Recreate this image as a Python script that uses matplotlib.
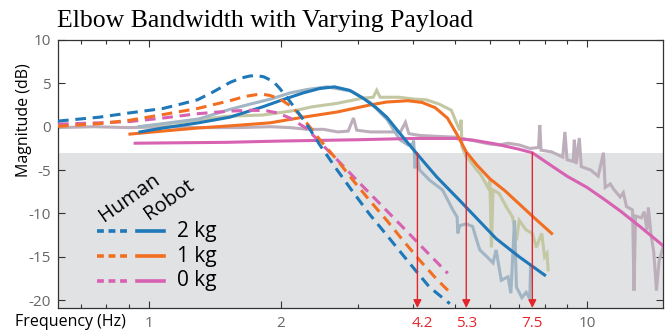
import numpy as np
import matplotlib
matplotlib.use("Agg")
import matplotlib.pyplot as plt
from matplotlib.ticker import FixedLocator, NullFormatter

plt.rcParams["axes.unicode_minus"] = False

# === Data ===

# human model (dashed)
human_2kg_f = [0.62, 0.77, 0.905, 1.076, 1.18, 1.29, 1.40, 1.53, 1.62, 1.70, 1.76, 1.83, 1.89, 1.94, 1.99, 2.07, 2.15, 2.23, 2.31, 2.455, 2.69, 2.92, 3.19, 3.49, 3.80, 4.08, 4.37, 4.86]
human_2kg_db = [0.65, 1.1, 1.6, 2.1, 2.6, 3.1, 4.0, 5.1, 5.6, 5.85, 5.9, 5.75, 5.4, 5.0, 4.4, 3.3, 2.2, 1.1, 0.0, -2.1, -5.0, -7.5, -10.1, -12.5, -14.8, -16.7, -18.5, -20.4]

human_1kg_f = [0.62, 0.77, 0.905, 1.076, 1.29, 1.53, 1.66, 1.76, 1.83, 1.89, 1.99, 2.12, 2.245, 2.455, 2.69, 2.92, 3.19, 3.49, 3.80, 4.15, 4.54, 4.91]
human_1kg_db = [0.05, 0.35, 0.75, 1.4, 2.1, 3.0, 3.5, 3.7, 3.72, 3.6, 3.2, 2.3, 1.0, -1.5, -3.85, -6.15, -8.5, -10.8, -13.1, -15.4, -17.6, -19.3]

human_0kg_f = [0.62, 0.77, 0.905, 1.076, 1.29, 1.53, 1.70, 1.85, 1.96, 2.1, 2.29, 2.49, 2.7, 3.0, 3.4, 3.8, 4.3, 4.81]
human_0kg_db = [0.3, 0.45, 0.6, 1.0, 1.5, 1.8, 1.9, 1.85, 1.6, 1.0, -0.2, -2.1, -3.9, -6.3, -9.1, -11.6, -14.4, -16.9]

# robot model (solid)
robot_2kg_f = [0.954, 1.076, 1.29, 1.53, 1.82, 1.99, 2.25, 2.45, 2.65, 2.87, 3.08, 3.3, 3.49, 3.8, 4.15, 4.54, 5.12, 6.2, 7.0, 8.0]
robot_2kg_db = [-0.6, -0.15, 0.43, 1.1, 2.3, 3.0, 3.9, 4.4, 4.6, 4.2, 3.3, 2.2, 1.1, -1.2, -3.5, -5.8, -8.5, -12.9, -15.0, -17.1]

robot_1kg_f = [0.905, 1.076, 1.29, 1.53, 1.89, 2.25, 2.69, 3.19, 3.49, 3.9, 4.2, 4.5, 4.8, 5.05, 5.3, 5.6, 6.0, 6.5, 7.0, 7.5, 8.3]
robot_1kg_db = [-0.85, -0.5, -0.15, 0.1, 0.45, 1.1, 1.7, 2.5, 2.85, 3.0, 2.8, 2.2, 1.0, -0.9, -2.9, -4.4, -6.0, -7.4, -8.9, -10.3, -12.3]

robot_0kg_f = [0.93, 1.5, 2.0, 3.0, 4.0, 5.0, 5.5, 6.2, 7.0, 7.5, 8.35, 9.0, 10.0, 11.0, 11.9, 13.2, 14.9]
robot_0kg_db = [-1.9, -1.8, -1.65, -1.5, -1.35, -1.35, -1.55, -2.0, -2.6, -3.0, -4.6, -5.7, -7.0, -8.45, -9.7, -11.5, -13.7]

# measured responses (light, noisy)
meas_2kg_f = [0.95, 1.3, 1.53, 1.7, 1.9, 2.1, 2.3, 2.55, 2.9, 3.2, 3.5, 3.74, 3.9, 4.0, 4.02, 4.05, 4.08, 4.15, 4.38, 4.68, 4.94, 5.05, 5.07, 5.12, 5.3, 5.48, 5.6, 5.69, 5.91, 6.1, 6.2, 6.37, 6.6, 6.7, 6.83, 6.9, 7.1, 7.26, 7.4, 7.43]
meas_2kg_db = [0.0, 0.9, 2.0, 2.6, 3.2, 3.9, 4.3, 4.6, 4.1, 2.8, 0.8, -1.5, -2.1, -2.0, -1.6, -4.8, -3.0, -5.0, -6.2, -7.3, -9.6, -10.4, -12.3, -11.4, -11.2, -11.5, -13.1, -14.2, -15.0, -15.7, -14.2, -17.7, -17.3, -19.2, -10.8, -18.5, -19.7, -19.1, -19.8, -16.2]

meas_1kg_f = [0.95, 1.18, 1.5, 1.82, 2.17, 2.36, 2.69, 3.08, 3.25, 3.31, 3.37, 3.73, 4.0, 4.3, 4.6, 4.9, 5.04, 5.12, 5.16, 5.18, 5.3, 5.4, 5.6, 5.7, 5.94, 6.0, 6.05, 6.1, 6.3, 6.55, 6.76, 6.9, 7.0, 7.26, 7.5, 7.66, 7.88, 8.0, 8.1, 8.15]
meas_1kg_db = [0.0, 0.5, 1.2, 1.35, 1.9, 2.3, 2.7, 3.3, 3.4, 4.2, 3.4, 3.4, 3.2, 3.1, 2.6, 1.9, 0.4, -0.4, 0.8, -2.3, -3.5, -3.9, -5.0, -5.4, -7.0, -6.2, -13.9, -7.3, -7.7, -9.3, -10.4, -13.1, -10.8, -11.9, -12.3, -13.9, -12.3, -15.0, -14.6, -16.5]

meas_0kg_f = [0.62, 0.75, 0.9, 1.1, 1.3, 1.6, 1.9, 2.1, 2.3, 2.5, 2.7, 2.85, 2.93, 2.98, 3.2, 3.5, 3.75, 3.85, 3.92, 4.15, 4.5, 5.0, 5.5, 6.0, 6.3, 6.6, 7.0, 7.4, 7.75, 7.8, 7.85, 8.3, 8.8, 8.9, 9.0, 9.3, 9.35, 9.45, 9.6, 9.7, 10.2, 10.6, 10.9, 11.0, 11.3, 11.5, 11.9, 12.1, 12.3, 12.7, 12.8, 12.9, 13.3, 13.5, 13.7, 13.8, 14.0, 14.2, 14.4, 14.6, 14.9]
meas_0kg_db = [-0.1, 0.0, -0.1, 0.0, -0.1, -0.1, 0.0, -0.1, -0.3, -0.3, -0.6, -0.5, 1.0, -0.4, -0.6, -0.6, -0.6, 0.5, -0.8, -1.0, -1.1, -1.2, -1.6, -2.0, -2.1, -1.9, -2.1, -2.5, -2.4, 0.2, -2.7, -2.9, -3.5, -0.6, -3.8, -4.0, -1.5, -4.3, -1.3, -4.6, -5.0, -5.7, -3.0, -7.0, -6.6, -7.2, -8.1, -7.6, -9.2, -9.6, -18.9, -10.3, -10.5, -9.8, -11.9, -9.3, -12.5, -14.5, -18.9, -15.5, -13.9]

# bandwidth markers
bw_arrow_f = [4.1, 5.3, 7.5]
bw_label_f = [4.2, 5.3, 7.5]
bw_labels = ["4.2", "5.3", "7.5"]

payload_labels = ["2 kg", "1 kg", "0 kg"]

# === Style ===
c_blue = "#1f78b8"
c_orange = "#f26f22"
c_pink = "#d862b2"
c_red = "#e3262c"
meas_colors = ["#a2b5c4", "#c3c7a2", "#bdaebb"]
tick_color = "#666666"
sans = "Open Sans"

fig = plt.figure(figsize=(6.71, 3.35), dpi=100)
ax = fig.add_axes([0.0864, 0.0806, 0.9016, 0.8])

ylo, yhi = -20.9, 10
ax.axhspan(ylo, -3, color="#e1e2e4", lw=0, zorder=0)

# measured
for f, db, c in zip([meas_0kg_f, meas_1kg_f, meas_2kg_f],
                    [meas_0kg_db, meas_1kg_db, meas_2kg_db],
                    [meas_colors[2], meas_colors[1], meas_colors[0]]):
    ax.plot(f, db, color=c, lw=2.2, solid_joinstyle="miter", zorder=2)

# robot models
lw = 2.2
ax.plot(robot_0kg_f, robot_0kg_db, color=c_pink, lw=lw, zorder=3)
ax.plot(robot_1kg_f, robot_1kg_db, color=c_orange, lw=lw, zorder=3)
ax.plot(robot_2kg_f, robot_2kg_db, color=c_blue, lw=lw, zorder=3)

# human models
dash = (3.5, 2.2)
ax.plot(human_0kg_f, human_0kg_db, color=c_pink, lw=lw, dashes=dash, zorder=4)
ax.plot(human_1kg_f, human_1kg_db, color=c_orange, lw=lw, dashes=dash, zorder=4)
ax.plot(human_2kg_f, human_2kg_db, color=c_blue, lw=lw, dashes=dash, zorder=4)

# bandwidth arrows
for fa, fl, lab in zip(bw_arrow_f, bw_label_f, bw_labels):
    ax.annotate("", xy=(fa, ylo), xytext=(fa, -3),
                arrowprops=dict(arrowstyle="-|>", color=c_red, lw=1.0,
                                mutation_scale=12, shrinkA=0, shrinkB=0),
                zorder=5)
    ax.text(fl, -0.028, lab, transform=ax.get_xaxis_transform(),
            ha="center", va="top", color=c_red, fontsize=11, family=sans)

# axes
ax.set_xscale("log")
ax.set_xlim(0.62, 14.9)
ax.set_ylim(ylo, yhi)
ax.xaxis.set_major_locator(FixedLocator([1, 2, 10]))
ax.xaxis.set_minor_locator(FixedLocator([0.7, 0.8, 0.9, 3, 4, 5, 6, 7, 8, 9]))
ax.xaxis.set_minor_formatter(NullFormatter())
ax.set_xticklabels(["1", "2", "10"])
ax.set_yticks([-20, -15, -10, -5, 0, 5, 10])
ax.tick_params(which="both", direction="in", top=True, right=True,
               colors="#333333", labelcolor=tick_color, labelsize=11)
ax.tick_params(which="major", length=5, width=0.8)
ax.tick_params(which="minor", length=3, width=0.8)
ax.tick_params(axis="x", pad=6)
ax.tick_params(axis="y", pad=5)
for lab in ax.get_xticklabels() + ax.get_yticklabels():
    lab.set_family(sans)
for s in ax.spines.values():
    s.set_color("#333333")
    s.set_linewidth(0.9)

# labels
fig.text(0.036, 0.64, "Magnitude (dB)", rotation=90, ha="center", va="center",
         fontsize=11.5, family=sans)
fig.text(0.022, 0.038, "Frequency (Hz)", ha="left", va="center",
         fontsize=11.5, family=sans)
fig.text(0.395, 0.918, "Elbow Bandwidth with Varying Payload", ha="center",
         va="baseline", fontsize=18.5, family="Liberation Serif")

# custom legend
ax.text(0.119, 0.41, "Human", rotation=35, ha="center", va="center",
        fontsize=14.5, family=sans, transform=ax.transAxes)
ax.text(0.183, 0.405, "Robot", rotation=35, ha="center", va="center",
        fontsize=14.5, family=sans, transform=ax.transAxes)
rows_y = [0.287, 0.194, 0.101]
for y, c, lab in zip(rows_y, [c_blue, c_orange, c_pink], payload_labels):
    ax.plot([0.0645, 0.114], [y, y], color=c, lw=2.6, dashes=(1.9, 1.3),
            transform=ax.transAxes, zorder=6)
    ax.plot([0.1306, 0.175], [y, y], color=c, lw=2.6,
            transform=ax.transAxes, zorder=6)
    ax.text(0.197, y, lab, ha="left", va="center", fontsize=15, family=sans,
            transform=ax.transAxes)

fig.savefig("out.png", dpi=100)
